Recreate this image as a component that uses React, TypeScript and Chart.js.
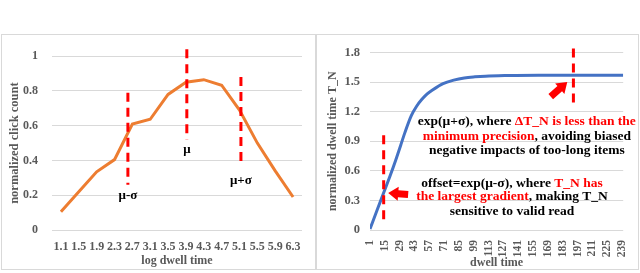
import React, { useEffect, useRef } from "react";
import { Chart, registerables } from "chart.js";

Chart.register(...registerables);

// ---------- data ----------
const LOG_DWELL_LABELS = ["1.1", "1.5", "1.9", "2.3", "2.7", "3.1", "3.5", "3.9", "4.3", "4.7", "5.1", "5.5", "5.9", "6.3"];
const CLICK_COUNT = [0.105, 0.22, 0.335, 0.405, 0.61, 0.637, 0.78, 0.85, 0.865, 0.833, 0.69, 0.5, 0.34, 0.19];

const DWELL_X = [1, 8, 14, 20, 25, 30, 34, 40, 45, 50, 55, 60, 70, 80, 90, 100, 110, 130, 160, 200, 240];
const DWELL_TN = [0.01, 0.21, 0.38, 0.55, 0.7, 0.86, 0.99, 1.16, 1.255, 1.325, 1.38, 1.42, 1.485, 1.52, 1.542, 1.553, 1.56, 1.566, 1.57, 1.57, 1.57];
const DWELL_TICKS = [1, 15, 29, 43, 57, 71, 85, 99, 113, 127, 141, 155, 169, 183, 197, 211, 225, 239];

// left annotations (category index, value)
const LEFT_MARK_TEXT = ["μ-σ", "μ", "μ+σ"];
const LEFT_MARK_X = [3.75, 7.05, 10.08];
const LEFT_MARK_TOP = [0.79, 1.04, 0.88];
const LEFT_MARK_BOTTOM = [0.26, 0.52, 0.37];
const LEFT_LABEL_Y = [0.2, 0.46, 0.285];

// right annotations (dwell time, T_N)
const RIGHT_MARK_X = [13.9, 193];
const RIGHT_MARK_TOP = [0.96, 1.84];
const RIGHT_MARK_BOTTOM = [0.05, 1.25];

const FAMILY = '"Liberation Serif", "Times New Roman", serif';
const GRAY = "#595959";
const GRID = "#d9d9d9";
const ORANGE = "#ed7d31";
const BLUE = "#4472c4";
const RED = "#ff0000";
const BLACK = "#000000";

type Seg = [string, string];
const NOTE_TOP: Seg[][] = [
  [["exp(μ+σ), where ", BLACK], ["ΔT_N is less than the", RED]],
  [["minimum precision", RED], [", avoiding biased", BLACK]],
  [["negative impacts of too-long items", BLACK]],
];
const NOTE_TOP_POS = { x: 149, y: [1.096, 0.949, 0.802] };
const NOTE_BOTTOM: Seg[][] = [
  [["offset=exp(μ-σ), where ", BLACK], ["T_N has", RED]],
  [["the largest gradient", RED], [", making T_N", BLACK]],
  [["sensitive to valid read", BLACK]],
];
const NOTE_BOTTOM_POS = { x: 135, y: [0.473, 0.336, 0.186] };

const ARROWS = [
  { from: [171.6, 1.353], to: [187.2, 1.5] },
  { from: [37, 0.36], to: [18.2, 0.375] },
];

function dashed(ctx: CanvasRenderingContext2D, x: number, y0: number, y1: number) {
  ctx.save();
  ctx.strokeStyle = RED;
  ctx.lineWidth = 3;
  ctx.setLineDash([9, 6]);
  ctx.beginPath();
  ctx.moveTo(x, y0);
  ctx.lineTo(x, y1);
  ctx.stroke();
  ctx.restore();
}

function arrow(ctx: CanvasRenderingContext2D, x0: number, y0: number, x1: number, y1: number) {
  const dx = x1 - x0, dy = y1 - y0;
  const len = Math.hypot(dx, dy);
  const ux = dx / len, uy = dy / len;
  const px = -uy, py = ux;
  const shaft = 3.5, headW = 7, headL = 10;
  const bx = x1 - ux * headL, by = y1 - uy * headL;
  ctx.save();
  ctx.fillStyle = RED;
  ctx.beginPath();
  ctx.moveTo(x0 + px * shaft, y0 + py * shaft);
  ctx.lineTo(bx + px * shaft, by + py * shaft);
  ctx.lineTo(bx + px * headW, by + py * headW);
  ctx.lineTo(x1, y1);
  ctx.lineTo(bx - px * headW, by - py * headW);
  ctx.lineTo(bx - px * shaft, by - py * shaft);
  ctx.lineTo(x0 - px * shaft, y0 - py * shaft);
  ctx.closePath();
  ctx.fill();
  ctx.restore();
}

function richLines(ctx: CanvasRenderingContext2D, lines: Seg[][], cx: number, ys: number[]) {
  ctx.save();
  ctx.font = `bold 13.5px ${FAMILY}`;
  ctx.textBaseline = "middle";
  ctx.textAlign = "left";
  lines.forEach((segs, i) => {
    const total = segs.reduce((s, [t]) => s + ctx.measureText(t).width, 0);
    let x = cx - total / 2;
    segs.forEach(([t, c]) => {
      ctx.fillStyle = c;
      ctx.fillText(t, x, ys[i]);
      x += ctx.measureText(t).width;
    });
  });
  ctx.restore();
}

const leftAnnot = {
  id: "leftAnnot",
  afterDraw(chart: any) {
    const { ctx } = chart;
    const xs = chart.scales.x, ys = chart.scales.y;
    LEFT_MARK_X.forEach((v, i) => {
      const x = xs.getPixelForValue(v);
      dashed(ctx, x, ys.getPixelForValue(LEFT_MARK_TOP[i]), ys.getPixelForValue(LEFT_MARK_BOTTOM[i]));
      ctx.save();
      ctx.font = `bold 13px ${FAMILY}`;
      ctx.fillStyle = BLACK;
      ctx.textAlign = "center";
      ctx.textBaseline = "middle";
      ctx.fillText(LEFT_MARK_TEXT[i], x, ys.getPixelForValue(LEFT_LABEL_Y[i]));
      ctx.restore();
    });
  },
};

const rightAnnot = {
  id: "rightAnnot",
  afterDraw(chart: any) {
    const { ctx } = chart;
    const xs = chart.scales.x, ys = chart.scales.y;
    RIGHT_MARK_X.forEach((v, i) => {
      dashed(ctx, xs.getPixelForValue(v), ys.getPixelForValue(RIGHT_MARK_TOP[i]), ys.getPixelForValue(RIGHT_MARK_BOTTOM[i]));
    });
    ARROWS.forEach((a) => {
      arrow(ctx, xs.getPixelForValue(a.from[0]), ys.getPixelForValue(a.from[1]), xs.getPixelForValue(a.to[0]), ys.getPixelForValue(a.to[1]));
    });
    richLines(ctx, NOTE_TOP, xs.getPixelForValue(NOTE_TOP_POS.x), NOTE_TOP_POS.y.map((v) => ys.getPixelForValue(v)));
    richLines(ctx, NOTE_BOTTOM, xs.getPixelForValue(NOTE_BOTTOM_POS.x), NOTE_BOTTOM_POS.y.map((v) => ys.getPixelForValue(v)));
  },
};

const tickFont = (size: number) => ({ family: FAMILY, size, weight: "bold" as const });
const fmt = (v: any) => String(Math.round(Number(v) * 10) / 10);

export default function App() {
  const leftRef = useRef<HTMLCanvasElement>(null);
  const rightRef = useRef<HTMLCanvasElement>(null);

  useEffect(() => {
    const left = new Chart(leftRef.current!, {
      type: "line",
      data: {
        labels: LOG_DWELL_LABELS,
        datasets: [{ data: CLICK_COUNT, borderColor: ORANGE, borderWidth: 3, pointRadius: 0, tension: 0, fill: false }],
      },
      options: {
        animation: false,
        responsive: false,
        events: [],
        layout: { padding: { left: 0, right: 13, top: 11, bottom: 0 } },
        plugins: { legend: { display: false }, tooltip: { enabled: false } },
        scales: {
          x: {
            type: "category",
            offset: true,
            grid: { display: false },
            border: { display: false },
            ticks: { autoSkip: false, maxRotation: 0, color: GRAY, font: tickFont(12), padding: 2 },
            title: { display: true, text: "log dwell time", color: GRAY, font: tickFont(12), padding: { top: 0, bottom: 1 } },
            afterFit: (s: any) => { s.height = 39; },
          },
          y: {
            min: 0,
            max: 1,
            ticks: { stepSize: 0.2, color: GRAY, font: tickFont(12), padding: 14, callback: fmt },
            grid: { color: GRID, drawTicks: false, lineWidth: 1 },
            border: { display: false },
            title: { display: true, text: "normalized click count", color: GRAY, font: tickFont(12.5), padding: { top: 5, bottom: 0 } },
            afterFit: (s: any) => { s.width = 50; },
          },
        },
      },
      plugins: [leftAnnot],
    } as any);

    const right = new Chart(rightRef.current!, {
      type: "line",
      data: {
        datasets: [{
          data: DWELL_X.map((x, i) => ({ x, y: DWELL_TN[i] })),
          borderColor: BLUE, borderWidth: 3, pointRadius: 0, cubicInterpolationMode: "monotone", fill: false,
        }],
      },
      options: {
        animation: false,
        responsive: false,
        events: [],
        layout: { padding: { left: 0, right: 13, top: 11, bottom: 0 } },
        plugins: { legend: { display: false }, tooltip: { enabled: false } },
        scales: {
          x: {
            type: "linear",
            min: 1,
            max: 240,
            grid: { display: false },
            border: { display: false },
            afterBuildTicks: (s: any) => { s.ticks = DWELL_TICKS.map((v) => ({ value: v })); },
            ticks: { autoSkip: false, minRotation: 90, maxRotation: 90, color: GRAY, font: tickFont(11.5), padding: 2 },
            title: { display: true, text: "dwell time", color: GRAY, font: tickFont(12), padding: { top: 0, bottom: -1 } },
            afterFit: (s: any) => { s.height = 39; },
          },
          y: {
            min: 0,
            max: 1.8,
            ticks: { stepSize: 0.3, color: GRAY, font: tickFont(12.5), padding: 10, callback: fmt },
            grid: { color: GRID, drawTicks: false, lineWidth: 1 },
            border: { display: false },
            title: { display: true, text: "normalized dwell time T_N", color: GRAY, font: tickFont(12), padding: { top: 9, bottom: 0 } },
            afterFit: (s: any) => { s.width = 53; },
          },
        },
      },
      plugins: [rightAnnot],
    } as any);

    return () => {
      left.destroy();
      right.destroy();
    };
  }, []);

  const box: React.CSSProperties = {
    position: "absolute",
    top: 34,
    height: 236,
    boxSizing: "border-box",
    border: `1px solid ${GRID}`,
    background: "#fff",
  };

  return (
    <div style={{ position: "absolute", left: 0, top: 0, width: 640, height: 273, background: "#fff", overflow: "hidden" }}>
      <div style={{ ...box, left: 1, width: 315 }}>
        <canvas ref={leftRef} width={313} height={234} style={{ display: "block", width: 313, height: 234 }} />
      </div>
      <div style={{ ...box, left: 316, width: 323 }}>
        <canvas ref={rightRef} width={321} height={234} style={{ display: "block", width: 321, height: 234 }} />
      </div>
    </div>
  );
}
